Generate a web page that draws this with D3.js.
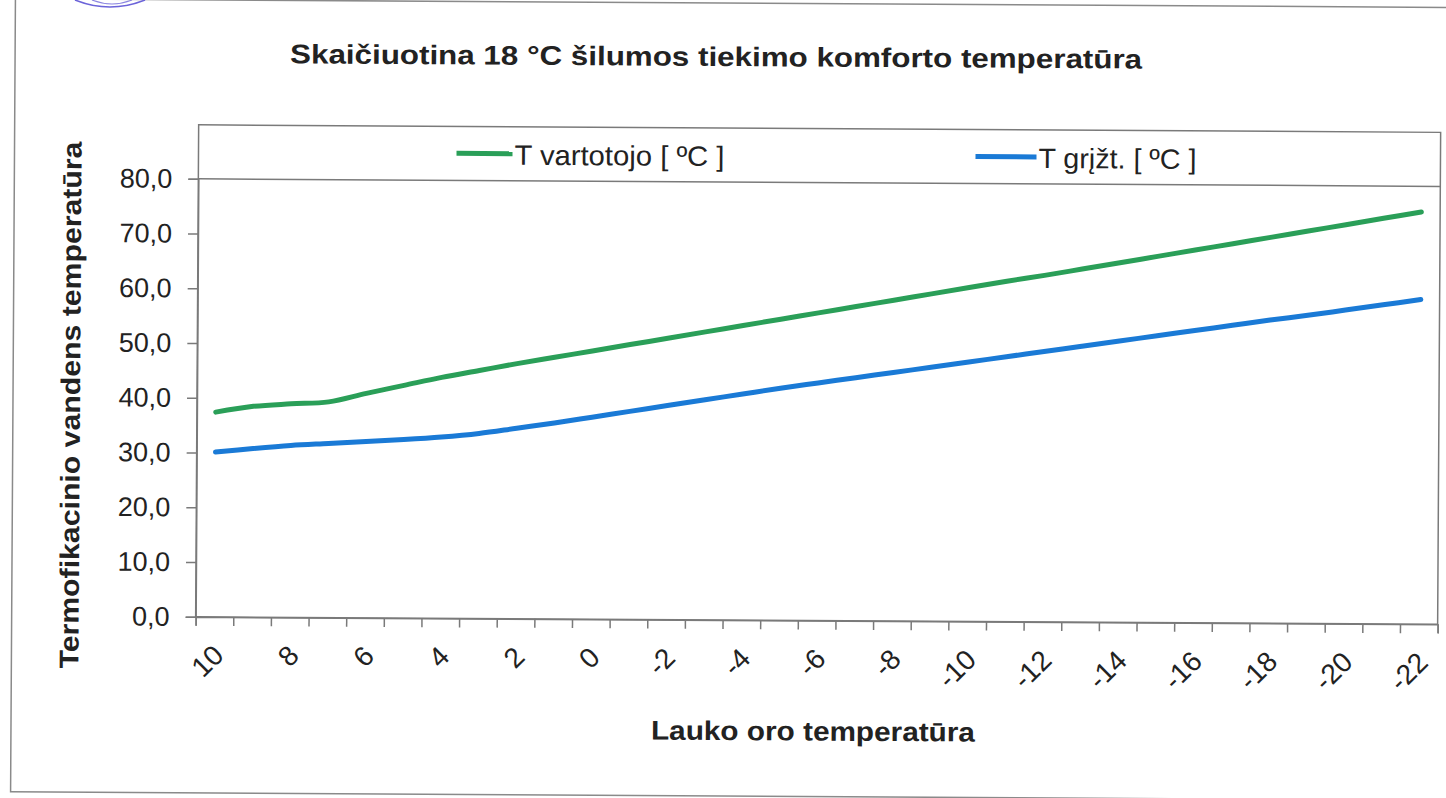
<!DOCTYPE html>
<html>
<head>
<meta charset="utf-8">
<script src="https://cdn.jsdelivr.net/npm/d3@7"></script>
<style>
body{margin:0;background:#fff;}
svg{display:block;font-family:"Liberation Sans",Arial,sans-serif;}
</style>
</head>
<body>
<div id="chart"></div>
<script>
// lauko oro temperatura (kategorijos)
var categories = [10,9,8,7,6,5,4,3,2,1,0,-1,-2,-3,-4,-5,-6,-7,-8,-9,-10,-11,-12,-13,-14,-15,-16,-17,-18,-19,-20,-21,-22];
var tVartotojo = [37.4,38.5,39.0,39.4,41.0,42.5,44.0,45.3,46.6,47.8,49.0,50.2,51.4,52.6,53.8,55.0,56.2,57.4,58.6,59.8,61.0,62.2,63.3,64.5,65.7,66.9,68.1,69.3,70.5,71.7,72.9,74.1,75.3];
var tGrizt = [30.1,30.8,31.4,31.8,32.2,32.6,33.1,33.8,34.8,35.8,36.9,38.0,39.1,40.2,41.3,42.4,43.4,44.4,45.4,46.4,47.4,48.4,49.4,50.4,51.4,52.4,53.4,54.4,55.4,56.3,57.3,58.3,59.3];
var yTicks = [0,10,20,30,40,50,60,70,80];
var xLabels = [10,8,6,4,2,0,-2,-4,-6,-8,-10,-12,-14,-16,-18,-20,-22];
var seriesNames = ["T vartotojo [ ºC ]", "T grįžt. [ ºC ]"];
var seriesColors = ["#2a9f58", "#1a7ad6"];

var Chart = {
    init:function(){
        this.w = 1446;
        this.h = 798;
        this.left = 197;
        this.right = 1439;
        this.top = 128;
        this.y80 = 182;
        this.bottom = 620;

        this.svg = d3.select("#chart").append("svg")
            .attr("width", this.w)
            .attr("height", this.h);
        // skenuotas lapas siek tiek pasuktas
        this.g = this.svg.append("g").attr("transform", "rotate(0.35,723,399)");

        this.x = d3.scaleBand().domain(categories).range([this.left, this.right]).padding(0);
        this.xEdge = d3.scaleLinear().domain([0, categories.length]).range([this.left, this.right]);
        this.y = d3.scaleLinear().domain([0, 80]).range([this.bottom, this.y80]);

        this.drawFrame();
        this.drawAxes();
        this.drawLines();
        this.drawLegend();
        this.drawTitles();
        return this;
    },
    drawFrame:function(){
        var g = this.g;
        g.append("rect")
            .attr("x", 13).attr("y", 3)
            .attr("width", 1450).attr("height", 793)
            .attr("fill", "none").attr("stroke", "#8a8a8a").attr("stroke-width", 1.5);

        // antspaudo kraštas
        this.svg.append("path")
            .attr("d", "M75,0 Q110,14 145,0")
            .attr("fill", "none").attr("stroke", "#6b63d9").attr("stroke-width", 1.6);
        this.svg.append("path")
            .attr("d", "M92,0 Q112,8 132,0")
            .attr("fill", "none").attr("stroke", "#8a84e0").attr("stroke-width", 1.2);

        g.append("rect")
            .attr("x", this.left).attr("y", this.top)
            .attr("width", this.right - this.left).attr("height", this.bottom - this.top)
            .attr("fill", "none").attr("stroke", "#7a7a7a").attr("stroke-width", 1.5);
    },
    drawAxes:function(){
        var that = this;
        var g = this.g;

        var yAxis = g.append("g")
            .attr("transform", "translate(" + this.left + ",0)")
            .call(d3.axisLeft(this.y).tickValues(yTicks).tickSize(10).tickPadding(16)
                .tickFormat(function(d){ return d3.format(".1f")(d).replace(".", ","); }));
        yAxis.select(".domain").attr("stroke", "#7a7a7a").attr("stroke-width", 1.5);
        yAxis.selectAll(".tick line").attr("stroke", "#7a7a7a").attr("stroke-width", 1.5);
        yAxis.selectAll(".tick text")
            .attr("font-size", "27px").attr("fill", "#222")
            .attr("font-family", "'Liberation Sans',Arial,sans-serif");

        var xAxis = g.append("g")
            .attr("transform", "translate(0," + this.bottom + ")")
            .call(d3.axisBottom(this.xEdge).tickValues(d3.range(categories.length + 1)).tickSize(9).tickFormat(""));
        xAxis.select(".domain").attr("stroke", "#7a7a7a").attr("stroke-width", 1.5);
        xAxis.selectAll(".tick line").attr("stroke", "#7a7a7a").attr("stroke-width", 1.5);

        var half = this.x.bandwidth() / 2;
        g.append("g").selectAll("text")
            .data(xLabels)
            .enter()
            .append("text")
            .attr("text-anchor", "end")
            .attr("font-size", "28px")
            .attr("fill", "#222")
            .attr("transform", function(d){
                var cx = that.x(d) + half + 11;
                return "translate(" + cx + "," + (that.bottom + 40) + ") rotate(-45)";
            })
            .text(function(d){ return d; });
    },
    drawLines:function(){
        var that = this;
        var half = this.x.bandwidth() / 2;
        var line = d3.line()
            .x(function(d, i){ return that.x(categories[i]) + half; })
            .y(function(d){ return that.y(d); })
            .curve(d3.curveCatmullRom.alpha(0.5));

        [tVartotojo, tGrizt].forEach(function(s, i){
            that.g.append("path")
                .datum(s)
                .attr("d", line)
                .attr("fill", "none")
                .attr("stroke", seriesColors[i])
                .attr("stroke-width", 5)
                .attr("stroke-linecap", "round")
                .attr("stroke-linejoin", "round");
        });
    },
    drawLegend:function(){
        var g = this.g;
        g.append("line")
            .attr("x1", this.left).attr("x2", this.right)
            .attr("y1", this.y80).attr("y2", this.y80)
            .attr("stroke", "#7a7a7a").attr("stroke-width", 1.5);

        var pos = [{x: 455, tx: 513, len: 210}, {x: 974, tx: 1037, len: 158}];
        seriesNames.forEach(function(name, i){
            g.append("line")
                .attr("x1", pos[i].x).attr("x2", pos[i].tx - 2)
                .attr("y1", 155).attr("y2", 155)
                .attr("stroke", seriesColors[i]).attr("stroke-width", 5);
            g.append("text")
                .attr("x", pos[i].tx).attr("y", 166)
                .attr("font-size", "28px")
                .attr("fill", "#222")
                .attr("textLength", pos[i].len)
                .attr("lengthAdjust", "spacingAndGlyphs")
                .text(name);
        });
    },
    drawTitles:function(){
        var g = this.g;
        g.append("text")
            .attr("x", 714).attr("y", 66)
            .attr("text-anchor", "middle")
            .attr("font-size", "27px").attr("font-weight", "bold").attr("fill", "#222")
            .attr("textLength", 852).attr("lengthAdjust", "spacingAndGlyphs")
            .text("Skaičiuotina 18 °C šilumos tiekimo komforto temperatūra");

        g.append("text")
            .attr("x", 815).attr("y", 740)
            .attr("text-anchor", "middle")
            .attr("font-size", "27px").attr("font-weight", "bold").attr("fill", "#222")
            .attr("textLength", 324).attr("lengthAdjust", "spacingAndGlyphs")
            .text("Lauko oro temperatūra");

        g.append("text")
            .attr("transform", "translate(80,409) rotate(-90)")
            .attr("text-anchor", "middle")
            .attr("font-size", "27px").attr("font-weight", "bold").attr("fill", "#222")
            .attr("textLength", 527).attr("lengthAdjust", "spacingAndGlyphs")
            .text("Termofikacinio vandens temperatūra");
    }
};

Chart.init();
</script>
</body>
</html>
